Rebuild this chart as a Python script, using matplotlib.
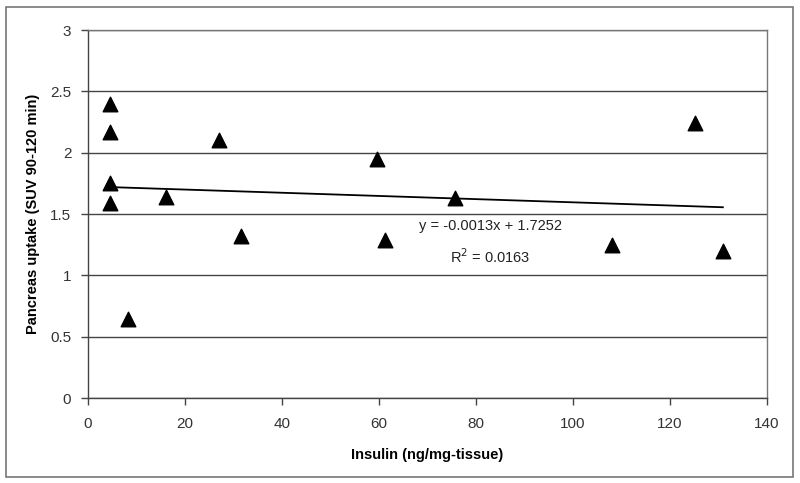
import matplotlib.pyplot as plt
import numpy as np
from matplotlib.patches import Rectangle

plt.rcParams['font.family'] = ['Liberation Sans', 'DejaVu Sans']

# data
insulin = [4.5, 4.5, 4.5, 4.5, 8.3, 16.1, 27.0, 31.5, 59.5, 61.2, 75.7, 108.1, 125.2, 130.9]
uptake = [2.40, 2.17, 1.75, 1.59, 0.64, 1.64, 2.10, 1.32, 1.95, 1.29, 1.63, 1.25, 2.24, 1.20]
slope = -0.0013
intercept = 1.7252
r2 = 0.0163

fig = plt.figure(figsize=(8, 4.83), dpi=100)
ax = fig.add_axes([88 / 800, 85 / 483, (767 - 88) / 800, (398 - 30) / 483])

ax.scatter(insulin, uptake, marker='^', s=110, color='black', zorder=3)

xs = np.array([min(insulin), max(insulin)])
ax.plot(xs, slope * xs + intercept, color='black', lw=1.3, zorder=2)

ax.set_xlim(0, 140)
ax.set_ylim(0, 3)
ax.set_xticks(np.arange(0, 141, 20))
ax.set_yticks(np.arange(0, 3.01, 0.5))
ax.set_yticklabels(['0', '0.5', '1', '1.5', '2', '2.5', '3'])
ax.yaxis.grid(True, color='#444444', lw=1)
ax.set_axisbelow(True)
for s in ax.spines.values():
    s.set_color('#777777')
    s.set_linewidth(1)
ax.spines['left'].set_color('#444444')
ax.spines['bottom'].set_color('#444444')
ax.tick_params(length=5, width=1, color='#444444', labelsize=11, labelcolor='#333333')
ax.tick_params(axis='x', pad=9)
ax.tick_params(axis='y', pad=7)

ax.set_xlabel('Insulin (ng/mg-tissue)', fontsize=10.5, fontweight='bold', labelpad=12)
ax.set_ylabel('Pancreas uptake (SUV 90-120 min)', fontsize=10.5, fontweight='bold', labelpad=7)

ax.text(83, 1.40, 'y = -0.0013x + 1.7252', ha='center', va='center', fontsize=10.5, color='#222222')
ax.text(83, 1.15, 'R$^2$ = %.4f' % r2, ha='center', va='center', fontsize=10.5, color='#222222')

fig.patches.append(Rectangle((6 / 800, 6 / 483), 787 / 800, 470 / 483, transform=fig.transFigure,
                             fill=False, edgecolor='#777777', lw=1.2))

fig.savefig('out.png', dpi=100)
